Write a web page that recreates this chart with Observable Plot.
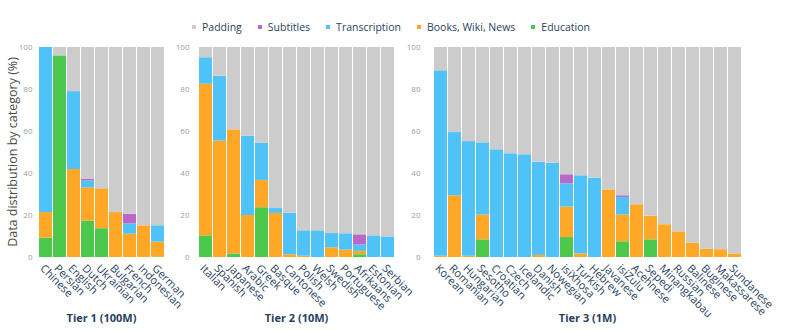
<!DOCTYPE html>
<html><head><meta charset="utf-8">
<script src="https://cdn.jsdelivr.net/npm/d3@7"></script>
<script src="https://cdn.jsdelivr.net/npm/@observablehq/plot@0.6"></script>
<style>
body{margin:0;background:#fff;font-family:"Open Sans",sans-serif;}
#root{position:relative;width:793px;height:331px;overflow:hidden;background:#fff}
.legend{position:absolute;top:19px;left:192px;display:flex;gap:16px;font-size:10.5px;color:#2a3f5f;white-space:nowrap;line-height:16px}
.legend .sw{display:inline-block;width:4px;height:4px;margin-right:6px;vertical-align:middle;position:relative;top:-1px}
.panel{position:absolute;top:40px}
.panel svg{overflow:visible}
.panel g[aria-label^="x-axis"] text{font-size:11px;fill:#2a3f5f}
.panel g[aria-label^="y-axis"] text{font-size:8px;fill:#9aa0a6}
.tier{position:absolute;top:311px;font-weight:bold;font-size:11px;color:#2a3f5f;text-align:center;line-height:14px}
.ytitle{position:absolute;left:12px;top:152px;transform:translate(-50%,-50%) rotate(-90deg);font-size:12.5px;color:#4a4a4a;white-space:nowrap}
</style>
</head><body>
<div id="root"></div>
<script>
const categories = ["Education", "Books, Wiki, News", "Transcription", "Subtitles", "Padding"];
const categoryColors = ["#4cc94c", "#ffa726", "#4fc3f7", "#ba68c8", "#cccccc"];
const legendOrder = ["Padding", "Subtitles", "Transcription", "Books, Wiki, News", "Education"];

const tier1Label = "Tier 1 (100M)";
const tier1Langs = ["Chinese","Persian","English","Dutch","Ukrainian","Bulgarian","French","Indonesian","German"];
const tier1Edu   = [9.2, 96, 0, 17.3, 13.7, 0, 0, 0, 0.3];
const tier1Books = [12.2, 0, 41.9, 15.9, 19, 21.4, 11.1, 15.1, 7];
const tier1Trans = [78.6, 0, 37.1, 3.3, 0, 0, 4.9, 0, 7.8];
const tier1Subs  = [0, 0, 0, 0.8, 0, 0, 4.6, 0, 0];
const tier1Pad   = [0, 4, 21, 62.7, 67.3, 78.6, 79.4, 84.9, 84.9];

const tier2Label = "Tier 2 (10M)";
const tier2Langs = ["Italian","Spanish","Japanese","Arabic","Greek","Basque","Cantonese","Polish","Welsh","Swedish","Portuguese","Afrikaans","Estonian","Serbian"];
const tier2Edu   = [10.3, 0, 1.7, 0, 23.7, 0, 0, 0, 0, 0, 0, 1.3, 0, 0];
const tier2Books = [72.2, 55.4, 59.1, 20, 13, 21, 1.3, 0.6, 0, 4.6, 3.5, 1.6, 0, 0];
const tier2Trans = [12.6, 30.9, 0, 37.8, 17.7, 2.3, 19.8, 12.1, 12.7, 6.8, 7.8, 3.1, 10.3, 9.8];
const tier2Subs  = [0, 0, 0, 0, 0, 0, 0, 0, 0, 0, 0, 4.8, 0, 0];
const tier2Pad   = [4.9, 13.7, 39.2, 42.2, 45.6, 76.7, 78.9, 87.3, 87.3, 88.6, 88.7, 89.2, 89.7, 90.2];

const tier3Label = "Tier 3 (1M)";
const tier3Langs = ["Korean","Romanian","Hungarian","Sesotho","Croatian","Czech","Icelandic","Danish","Nowegian","isiXhosa","Turkish","Hebrew","Javanese","isiZulu","Acehnese","Sepedi","Minangkabau","Russian","Balinese","Buginese","Makassarese","Sundanese"];
const tier3Edu   = [0, 0, 0, 8.4, 0, 0, 0, 0, 0, 9.5, 0, 0, 0, 7.5, 0, 8.4, 0, 0, 0, 0, 0, 0];
const tier3Books = [0.6, 29.4, 0.6, 11.8, 0, 0, 0, 1, 0, 14.5, 1.7, 0, 32.2, 12.7, 25.1, 11.3, 15.6, 12.2, 6.8, 4, 3.7, 1.7];
const tier3Trans = [88.3, 30.1, 54.6, 34.4, 51.3, 49.4, 48.9, 44.4, 44.9, 11.1, 37.2, 37.8, 0, 8.4, 0, 0, 0, 0, 0, 0, 0, 0];
const tier3Subs  = [0, 0, 0, 0, 0, 0, 0, 0, 0, 4.3, 0, 0, 0, 0.8, 0, 0, 0, 0, 0, 0, 0, 0];
const tier3Pad   = [11.1, 40.5, 44.8, 45.4, 48.7, 50.6, 51.1, 54.6, 55.1, 60.6, 61.1, 62.2, 67.8, 70.6, 74.9, 80.3, 84.4, 87.8, 93.2, 96, 96.3, 98.3];

const yTitle = "Data distribution by category (%)";

const root = document.getElementById("root");

const leg = document.createElement("div");
leg.className = "legend";
legendOrder.forEach(c => {
  const it = document.createElement("div");
  const sw = document.createElement("span");
  sw.className = "sw";
  sw.style.background = categoryColors[categories.indexOf(c)];
  it.appendChild(sw);
  it.appendChild(document.createTextNode(c));
  leg.appendChild(it);
});
root.appendChild(leg);

const yt = document.createElement("div");
yt.className = "ytitle";
yt.textContent = yTitle;
root.appendChild(yt);

function rows(langs, series) {
  const out = [];
  langs.forEach((l, i) => categories.forEach((c, j) => out.push({lang: l, cat: c, value: series[j][i]})));
  return out;
}

const hasAxisMarks = typeof Plot.axisX === "function";

function panel(langs, series, label, left, width, marginLeft, marginRight) {
  const marks = [Plot.barY(rows(langs, series), {x: "lang", y: "value", fill: "cat"})];
  if (hasAxisMarks) {
    marks.push(Plot.axisX({tickRotate: 45, tickSize: 0, tickPadding: 3, dx: -4, dy: 6, label: null}));
    marks.push(Plot.axisY({ticks: 5, tickSize: 0, tickPadding: 3, label: null}));
  }
  const chart = Plot.plot({
    width, height: 260,
    marginTop: 7, marginBottom: 43, marginLeft, marginRight,
    style: {fontFamily: "Open Sans", background: "transparent", overflow: "visible"},
    x: {domain: langs, padding: 0.07, tickRotate: 45, tickSize: 0, tickPadding: 9, label: null},
    y: {domain: [0, 100], ticks: 5, tickSize: 0, tickPadding: 3, label: null},
    color: {domain: categories, range: categoryColors},
    marks
  });
  const d = document.createElement("div");
  d.className = "panel";
  d.style.left = left + "px";
  d.appendChild(chart);
  root.appendChild(d);
  const t = document.createElement("div");
  t.className = "tier";
  t.style.left = (left + marginLeft) + "px";
  t.style.width = (width - marginLeft - marginRight) + "px";
  t.textContent = label;
  root.appendChild(t);
}

panel(tier1Langs, [tier1Edu, tier1Books, tier1Trans, tier1Subs, tier1Pad], tier1Label, 0, 180, 35, 12);
panel(tier2Langs, [tier2Edu, tier2Books, tier2Trans, tier2Subs, tier2Pad], tier2Label, 170, 240, 22, 9);
panel(tier3Langs, [tier3Edu, tier3Books, tier3Trans, tier3Subs, tier3Pad], tier3Label, 401, 392, 22, 41);
</script>
</body></html>
